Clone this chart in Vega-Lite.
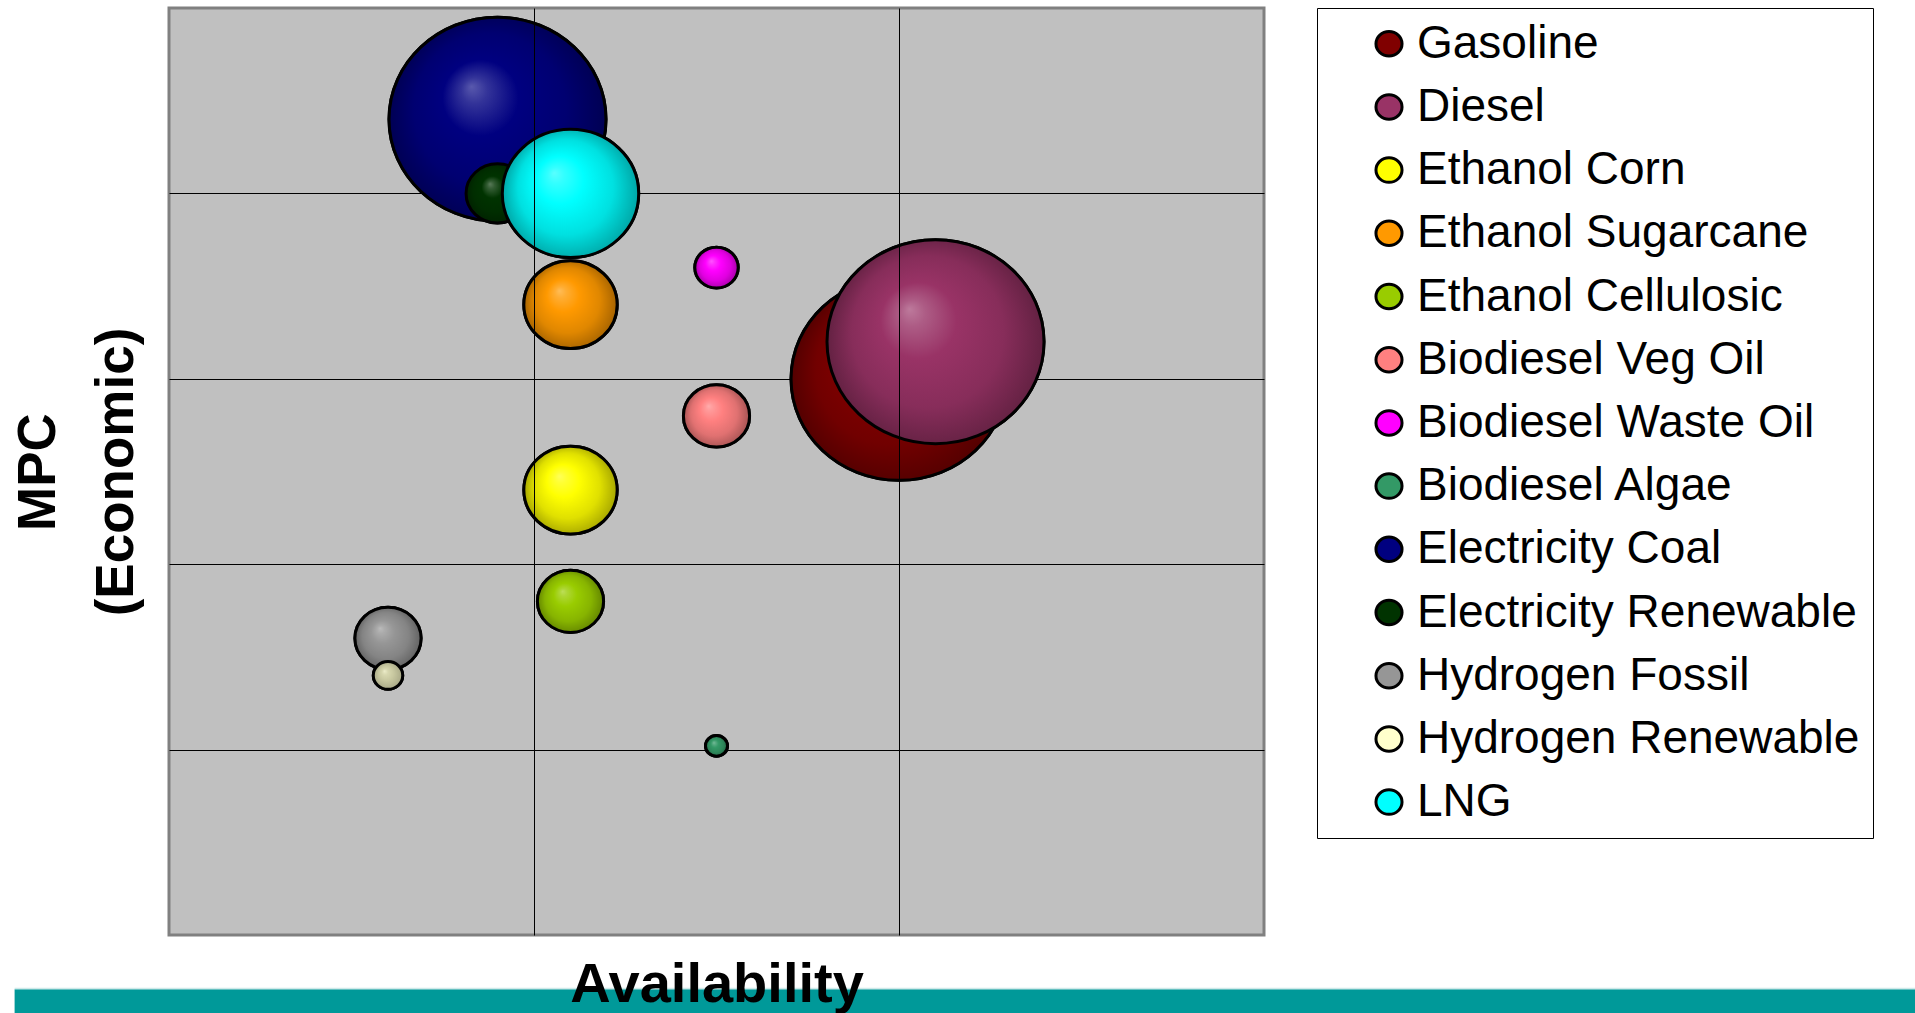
{
  "$schema": "https://vega.github.io/schema/vega-lite/v6.json",
  "width": 1095,
  "height": 927,
  "autosize": {"type": "none"},
  "padding": {"left": 169, "top": 8, "right": 651, "bottom": 78},
  "background": "white",
  "config": {
    "view": {"fill": "#C0C0C0", "stroke": "#808080", "strokeWidth": 3},
    "font": "Liberation Sans",
    "point": {"filled": true, "opacity": 1, "stroke": "#000000", "strokeWidth": 3, "shape": "M -1 0 A 1 0.94 0 1 1 1 0 A 1 0.94 0 1 1 -1 0 Z"},
    "legend": {
      "orient": "none",
      "legendX": 1148,
      "legendY": 0,
      "padding": 12.7,
      "strokeColor": "#000000",
      "fillColor": "#FFFFFF",
      "labelFont": "Liberation Sans",
      "labelFontSize": 46,
      "labelColor": "#000000",
      "labelLimit": 2000,
      "symbolSize": 680,
      "symbolType": "M -1 0 A 1 0.94 0 1 1 1 0 A 1 0.94 0 1 1 -1 0 Z",
      "symbolStrokeColor": "#000000",
      "symbolStrokeWidth": 3,
      "symbolOffset": 36.3,
      "labelOffset": 5,
      "rowPadding": 17.2
    }
  },
  "datasets": {
    "fuels": [
      {"fuel": "Gasoline", "availability": 2.0, "mpc": 3.0, "bubble": 99},
      {"fuel": "Diesel", "availability": 2.1, "mpc": 3.2, "bubble": 100},
      {"fuel": "Ethanol Corn", "availability": 1.1, "mpc": 2.4, "bubble": 18.5},
      {"fuel": "Ethanol Sugarcane", "availability": 1.1, "mpc": 3.4, "bubble": 18.5},
      {"fuel": "Ethanol Cellulosic", "availability": 1.1, "mpc": 1.8, "bubble": 9.3},
      {"fuel": "Biodiesel Veg Oil", "availability": 1.5, "mpc": 2.8, "bubble": 9.3},
      {"fuel": "Biodiesel Waste Oil", "availability": 1.5, "mpc": 3.6, "bubble": 4.0},
      {"fuel": "Biodiesel Algae", "availability": 1.5, "mpc": 1.02, "bubble": 1.03},
      {"fuel": "Electricity Coal", "availability": 0.9, "mpc": 4.4, "bubble": 100},
      {"fuel": "Electricity Renewable", "availability": 0.9, "mpc": 4.0, "bubble": 8.4},
      {"fuel": "Hydrogen Fossil", "availability": 0.6, "mpc": 1.6, "bubble": 9.3},
      {"fuel": "Hydrogen Renewable", "availability": 0.6, "mpc": 1.4, "bubble": 1.84},
      {"fuel": "LNG", "availability": 1.1, "mpc": 4.0, "bubble": 39.5}
    ]
  },
  "layer": [
    {
      "data": {"name": "fuels"},
      "mark": {"type": "point"},
      "encoding": {
        "x": {
          "field": "availability", "type": "quantitative",
          "scale": {"domain": [0, 3], "nice": false, "zero": false},
          "axis": {"title": "Availability", "values": [1, 2], "grid": true, "gridColor": "#000000", "gridWidth": 1, "gridOpacity": 1, "ticks": false, "labels": false, "domain": false, "titleFont": "Liberation Sans", "titleFontSize": 56, "titleFontWeight": "bold", "titleColor": "#000000", "titlePadding": 22, "minExtent": 0, "zindex": 1}
        },
        "y": {
          "field": "mpc", "type": "quantitative",
          "scale": {"domain": [0, 5], "nice": false, "zero": false},
          "axis": {"title": ["MPC", "(Economic)"], "values": [1, 2, 3, 4], "grid": true, "gridColor": "#000000", "gridWidth": 1, "gridOpacity": 1, "ticks": false, "labels": false, "domain": false, "titleFont": "Liberation Sans", "titleFontSize": 53, "titleFontWeight": "bold", "titleColor": "#000000", "titleLineHeight": 78, "titlePadding": 26, "minExtent": 0}
        },
        "size": {"field": "bubble", "type": "quantitative", "scale": {"domain": [0, 100], "range": [0, 47089], "zero": true}, "legend": null},
        "color": {
          "field": "fuel", "type": "nominal",
          "scale": {
            "domain": ["Gasoline", "Diesel", "Ethanol Corn", "Ethanol Sugarcane", "Ethanol Cellulosic", "Biodiesel Veg Oil", "Biodiesel Waste Oil", "Biodiesel Algae", "Electricity Coal", "Electricity Renewable", "Hydrogen Fossil", "Hydrogen Renewable", "LNG"],
            "range": ["#800000", "#993366", "#FFFF00", "#FF9900", "#99CC00", "#FF8080", "#FF00FF", "#339966", "#000080", "#003300", "#969696", "#FFFFCC", "#00FFFF"]
          },
          "legend": {"title": null}
        }
      }
    },
    {"data": {"name": "fuels"}, "transform": [{"filter": "datum.fuel === 'Gasoline'"}],
     "mark": {"type": "point", "fill": {"gradient": "radial", "x1": 0.38, "y1": 0.35, "r1": 0, "x2": 0.5, "y2": 0.5, "r2": 0.5, "stops": [{"offset": 0, "color": "#AD5959"}, {"offset": 0.12, "color": "#993333"}, {"offset": 0.35, "color": "#800000"}, {"offset": 0.7, "color": "#710000"}, {"offset": 1, "color": "#530000"}]}},
     "encoding": {"x": {"field": "availability", "type": "quantitative", "scale": {"domain": [0, 3], "nice": false, "zero": false}}, "y": {"field": "mpc", "type": "quantitative", "scale": {"domain": [0, 5], "nice": false, "zero": false}}, "size": {"field": "bubble", "type": "quantitative", "scale": {"domain": [0, 100], "range": [0, 47089], "zero": true}, "legend": null}}},
    {"data": {"name": "fuels"}, "transform": [{"filter": "datum.fuel === 'Diesel'"}],
     "mark": {"type": "point", "fill": {"gradient": "radial", "x1": 0.38, "y1": 0.35, "r1": 0, "x2": 0.5, "y2": 0.5, "r2": 0.5, "stops": [{"offset": 0, "color": "#BD7A9C"}, {"offset": 0.12, "color": "#AD5C85"}, {"offset": 0.35, "color": "#993366"}, {"offset": 0.7, "color": "#872D5A"}, {"offset": 1, "color": "#632142"}]}},
     "encoding": {"x": {"field": "availability", "type": "quantitative", "scale": {"domain": [0, 3], "nice": false, "zero": false}}, "y": {"field": "mpc", "type": "quantitative", "scale": {"domain": [0, 5], "nice": false, "zero": false}}, "size": {"field": "bubble", "type": "quantitative", "scale": {"domain": [0, 100], "range": [0, 47089], "zero": true}, "legend": null}}},
    {"data": {"name": "fuels"}, "transform": [{"filter": "datum.fuel === 'Ethanol Corn'"}],
     "mark": {"type": "point", "fill": {"gradient": "radial", "x1": 0.38, "y1": 0.35, "r1": 0, "x2": 0.5, "y2": 0.5, "r2": 0.5, "stops": [{"offset": 0, "color": "#FFFF59"}, {"offset": 0.12, "color": "#FFFF33"}, {"offset": 0.35, "color": "#FFFF00"}, {"offset": 0.7, "color": "#E0E000"}, {"offset": 1, "color": "#A6A600"}]}},
     "encoding": {"x": {"field": "availability", "type": "quantitative", "scale": {"domain": [0, 3], "nice": false, "zero": false}}, "y": {"field": "mpc", "type": "quantitative", "scale": {"domain": [0, 5], "nice": false, "zero": false}}, "size": {"field": "bubble", "type": "quantitative", "scale": {"domain": [0, 100], "range": [0, 47089], "zero": true}, "legend": null}}},
    {"data": {"name": "fuels"}, "transform": [{"filter": "datum.fuel === 'Ethanol Sugarcane'"}],
     "mark": {"type": "point", "fill": {"gradient": "radial", "x1": 0.38, "y1": 0.35, "r1": 0, "x2": 0.5, "y2": 0.5, "r2": 0.5, "stops": [{"offset": 0, "color": "#FFBD59"}, {"offset": 0.12, "color": "#FFAD33"}, {"offset": 0.35, "color": "#FF9900"}, {"offset": 0.7, "color": "#E08700"}, {"offset": 1, "color": "#A66300"}]}},
     "encoding": {"x": {"field": "availability", "type": "quantitative", "scale": {"domain": [0, 3], "nice": false, "zero": false}}, "y": {"field": "mpc", "type": "quantitative", "scale": {"domain": [0, 5], "nice": false, "zero": false}}, "size": {"field": "bubble", "type": "quantitative", "scale": {"domain": [0, 100], "range": [0, 47089], "zero": true}, "legend": null}}},
    {"data": {"name": "fuels"}, "transform": [{"filter": "datum.fuel === 'Ethanol Cellulosic'"}],
     "mark": {"type": "point", "fill": {"gradient": "radial", "x1": 0.38, "y1": 0.35, "r1": 0, "x2": 0.5, "y2": 0.5, "r2": 0.5, "stops": [{"offset": 0, "color": "#BDDE59"}, {"offset": 0.12, "color": "#ADD633"}, {"offset": 0.35, "color": "#99CC00"}, {"offset": 0.7, "color": "#87B400"}, {"offset": 1, "color": "#638500"}]}},
     "encoding": {"x": {"field": "availability", "type": "quantitative", "scale": {"domain": [0, 3], "nice": false, "zero": false}}, "y": {"field": "mpc", "type": "quantitative", "scale": {"domain": [0, 5], "nice": false, "zero": false}}, "size": {"field": "bubble", "type": "quantitative", "scale": {"domain": [0, 100], "range": [0, 47089], "zero": true}, "legend": null}}},
    {"data": {"name": "fuels"}, "transform": [{"filter": "datum.fuel === 'Biodiesel Veg Oil'"}],
     "mark": {"type": "point", "fill": {"gradient": "radial", "x1": 0.38, "y1": 0.35, "r1": 0, "x2": 0.5, "y2": 0.5, "r2": 0.5, "stops": [{"offset": 0, "color": "#FFACAC"}, {"offset": 0.12, "color": "#FF9999"}, {"offset": 0.35, "color": "#FF8080"}, {"offset": 0.7, "color": "#E07171"}, {"offset": 1, "color": "#A65353"}]}},
     "encoding": {"x": {"field": "availability", "type": "quantitative", "scale": {"domain": [0, 3], "nice": false, "zero": false}}, "y": {"field": "mpc", "type": "quantitative", "scale": {"domain": [0, 5], "nice": false, "zero": false}}, "size": {"field": "bubble", "type": "quantitative", "scale": {"domain": [0, 100], "range": [0, 47089], "zero": true}, "legend": null}}},
    {"data": {"name": "fuels"}, "transform": [{"filter": "datum.fuel === 'Biodiesel Waste Oil'"}],
     "mark": {"type": "point", "fill": {"gradient": "radial", "x1": 0.38, "y1": 0.35, "r1": 0, "x2": 0.5, "y2": 0.5, "r2": 0.5, "stops": [{"offset": 0, "color": "#FF59FF"}, {"offset": 0.12, "color": "#FF33FF"}, {"offset": 0.35, "color": "#FF00FF"}, {"offset": 0.7, "color": "#E000E0"}, {"offset": 1, "color": "#A600A6"}]}},
     "encoding": {"x": {"field": "availability", "type": "quantitative", "scale": {"domain": [0, 3], "nice": false, "zero": false}}, "y": {"field": "mpc", "type": "quantitative", "scale": {"domain": [0, 5], "nice": false, "zero": false}}, "size": {"field": "bubble", "type": "quantitative", "scale": {"domain": [0, 100], "range": [0, 47089], "zero": true}, "legend": null}}},
    {"data": {"name": "fuels"}, "transform": [{"filter": "datum.fuel === 'Biodiesel Algae'"}],
     "mark": {"type": "point", "fill": {"gradient": "radial", "x1": 0.38, "y1": 0.35, "r1": 0, "x2": 0.5, "y2": 0.5, "r2": 0.5, "stops": [{"offset": 0, "color": "#7ABD9C"}, {"offset": 0.12, "color": "#5CAD85"}, {"offset": 0.35, "color": "#339966"}, {"offset": 0.7, "color": "#2D875A"}, {"offset": 1, "color": "#216342"}]}},
     "encoding": {"x": {"field": "availability", "type": "quantitative", "scale": {"domain": [0, 3], "nice": false, "zero": false}}, "y": {"field": "mpc", "type": "quantitative", "scale": {"domain": [0, 5], "nice": false, "zero": false}}, "size": {"field": "bubble", "type": "quantitative", "scale": {"domain": [0, 100], "range": [0, 47089], "zero": true}, "legend": null}}},
    {"data": {"name": "fuels"}, "transform": [{"filter": "datum.fuel === 'Electricity Coal'"}],
     "mark": {"type": "point", "fill": {"gradient": "radial", "x1": 0.38, "y1": 0.35, "r1": 0, "x2": 0.5, "y2": 0.5, "r2": 0.5, "stops": [{"offset": 0, "color": "#5959AD"}, {"offset": 0.12, "color": "#333399"}, {"offset": 0.35, "color": "#000080"}, {"offset": 0.7, "color": "#000071"}, {"offset": 1, "color": "#000053"}]}},
     "encoding": {"x": {"field": "availability", "type": "quantitative", "scale": {"domain": [0, 3], "nice": false, "zero": false}}, "y": {"field": "mpc", "type": "quantitative", "scale": {"domain": [0, 5], "nice": false, "zero": false}}, "size": {"field": "bubble", "type": "quantitative", "scale": {"domain": [0, 100], "range": [0, 47089], "zero": true}, "legend": null}}},
    {"data": {"name": "fuels"}, "transform": [{"filter": "datum.fuel === 'Electricity Renewable'"}],
     "mark": {"type": "point", "fill": {"gradient": "radial", "x1": 0.38, "y1": 0.35, "r1": 0, "x2": 0.5, "y2": 0.5, "r2": 0.5, "stops": [{"offset": 0, "color": "#597A59"}, {"offset": 0.12, "color": "#335C33"}, {"offset": 0.35, "color": "#003300"}, {"offset": 0.7, "color": "#002D00"}, {"offset": 1, "color": "#002100"}]}},
     "encoding": {"x": {"field": "availability", "type": "quantitative", "scale": {"domain": [0, 3], "nice": false, "zero": false}}, "y": {"field": "mpc", "type": "quantitative", "scale": {"domain": [0, 5], "nice": false, "zero": false}}, "size": {"field": "bubble", "type": "quantitative", "scale": {"domain": [0, 100], "range": [0, 47089], "zero": true}, "legend": null}}},
    {"data": {"name": "fuels"}, "transform": [{"filter": "datum.fuel === 'Hydrogen Fossil'"}],
     "mark": {"type": "point", "fill": {"gradient": "radial", "x1": 0.38, "y1": 0.35, "r1": 0, "x2": 0.5, "y2": 0.5, "r2": 0.5, "stops": [{"offset": 0, "color": "#BBBBBB"}, {"offset": 0.12, "color": "#ABABAB"}, {"offset": 0.35, "color": "#969696"}, {"offset": 0.7, "color": "#848484"}, {"offset": 1, "color": "#626262"}]}},
     "encoding": {"x": {"field": "availability", "type": "quantitative", "scale": {"domain": [0, 3], "nice": false, "zero": false}}, "y": {"field": "mpc", "type": "quantitative", "scale": {"domain": [0, 5], "nice": false, "zero": false}}, "size": {"field": "bubble", "type": "quantitative", "scale": {"domain": [0, 100], "range": [0, 47089], "zero": true}, "legend": null}}},
    {"data": {"name": "fuels"}, "transform": [{"filter": "datum.fuel === 'Hydrogen Renewable'"}],
     "mark": {"type": "point", "fill": {"gradient": "radial", "x1": 0.38, "y1": 0.35, "r1": 0, "x2": 0.5, "y2": 0.5, "r2": 0.5, "stops": [{"offset": 0, "color": "#EDEDCB"}, {"offset": 0.2, "color": "#D8D8B0"}, {"offset": 0.5, "color": "#C8C8A0"}, {"offset": 1, "color": "#A6A685"}]}},
     "encoding": {"x": {"field": "availability", "type": "quantitative", "scale": {"domain": [0, 3], "nice": false, "zero": false}}, "y": {"field": "mpc", "type": "quantitative", "scale": {"domain": [0, 5], "nice": false, "zero": false}}, "size": {"field": "bubble", "type": "quantitative", "scale": {"domain": [0, 100], "range": [0, 47089], "zero": true}, "legend": null}}},
    {"data": {"name": "fuels"}, "transform": [{"filter": "datum.fuel === 'LNG'"}],
     "mark": {"type": "point", "fill": {"gradient": "radial", "x1": 0.38, "y1": 0.35, "r1": 0, "x2": 0.5, "y2": 0.5, "r2": 0.5, "stops": [{"offset": 0, "color": "#59FFFF"}, {"offset": 0.12, "color": "#33FFFF"}, {"offset": 0.35, "color": "#00FFFF"}, {"offset": 0.7, "color": "#00E0E0"}, {"offset": 1, "color": "#00A6A6"}]}},
     "encoding": {"x": {"field": "availability", "type": "quantitative", "scale": {"domain": [0, 3], "nice": false, "zero": false}}, "y": {"field": "mpc", "type": "quantitative", "scale": {"domain": [0, 5], "nice": false, "zero": false}}, "size": {"field": "bubble", "type": "quantitative", "scale": {"domain": [0, 100], "range": [0, 47089], "zero": true}, "legend": null}}},
    {
      "data": {"values": [{}]},
      "mark": {"type": "rect", "color": "#009999", "clip": false},
      "encoding": {
        "x": {"datum": -0.423, "type": "quantitative", "scale": {"domain": [0, 3], "nice": false, "zero": false}},
        "x2": {"datum": 4.85},
        "y": {"datum": -0.293, "type": "quantitative", "scale": {"domain": [0, 5], "nice": false, "zero": false}},
        "y2": {"datum": -0.45}
      }
    },
    {
      "data": {"values": [{}]},
      "mark": {"type": "rule", "color": "#CFE9E9", "strokeWidth": 1.5, "clip": false},
      "encoding": {
        "x": {"datum": -0.423, "type": "quantitative", "scale": {"domain": [0, 3], "nice": false, "zero": false}},
        "x2": {"datum": 4.85},
        "y": {"datum": -0.288, "type": "quantitative", "scale": {"domain": [0, 5], "nice": false, "zero": false}}
      }
    }
  ]
}
